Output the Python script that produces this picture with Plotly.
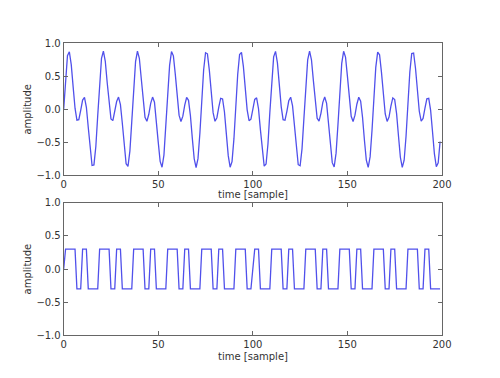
import plotly.graph_objects as go

# sample index
samples = list(range(200))

# top: original signal
signal = [
    0.000, 0.488, 0.810, 0.869, 0.675, 0.339, 0.016, -0.165, -0.158, -0.016,
    0.139, 0.178, 0.030, -0.275, -0.620, -0.850, -0.841, -0.563, -0.094, 0.407,
    0.770, 0.879, 0.725, 0.404, 0.067, -0.146, -0.172, -0.047, 0.117, 0.184,
    0.071, -0.212, -0.562, -0.823, -0.864, -0.632, -0.187, 0.322, 0.720, 0.879,
    0.770, 0.468, 0.123, -0.121, -0.181, -0.076, 0.090, 0.184, 0.106, -0.152,
    -0.500, -0.789, -0.876, -0.693, -0.278, 0.233, 0.663, 0.871, 0.807, 0.531,
    0.182, -0.089, -0.185, -0.104, 0.062, 0.178, 0.135, -0.094, -0.436, -0.748,
    -0.880, -0.746, -0.365, 0.141, 0.598, 0.854, 0.838, 0.592, 0.243, -0.051,
    -0.182, -0.128, 0.031, 0.166, 0.157, -0.041, -0.372, -0.701, -0.875, -0.791,
    -0.448, 0.047, 0.526, 0.827, 0.860, 0.648, 0.307, -0.008, -0.173, -0.149,
    0.000, 0.149, 0.173, 0.008, -0.307, -0.648, -0.860, -0.827, -0.526, -0.047,
    0.448, 0.791, 0.875, 0.701, 0.372, 0.041, -0.157, -0.166, -0.031, 0.128,
    0.182, 0.051, -0.243, -0.592, -0.838, -0.854, -0.598, -0.141, 0.365, 0.746,
    0.880, 0.748, 0.436, 0.094, -0.135, -0.178, -0.062, 0.104, 0.185, 0.089,
    -0.182, -0.531, -0.807, -0.871, -0.663, -0.233, 0.278, 0.693, 0.876, 0.789,
    0.500, 0.152, -0.106, -0.184, -0.090, 0.076, 0.181, 0.121, -0.123, -0.468,
    -0.770, -0.879, -0.720, -0.322, 0.187, 0.632, 0.864, 0.823, 0.562, 0.212,
    -0.071, -0.184, -0.117, 0.047, 0.172, 0.146, -0.067, -0.404, -0.725, -0.879,
    -0.770, -0.407, 0.094, 0.563, 0.841, 0.850, 0.620, 0.275, -0.030, -0.178,
    -0.139, 0.016, 0.158, 0.165, -0.016, -0.339, -0.675, -0.869, -0.810, -0.488,
]

# bottom: quantized signal
quantized = [
    0.0, 0.3, 0.3, 0.3, 0.3, 0.3, 0.3, -0.3, -0.3, -0.3,
    0.3, 0.3, 0.3, -0.3, -0.3, -0.3, -0.3, -0.3, -0.3, 0.3,
    0.3, 0.3, 0.3, 0.3, 0.3, -0.3, -0.3, -0.3, 0.3, 0.3,
    0.3, -0.3, -0.3, -0.3, -0.3, -0.3, -0.3, 0.3, 0.3, 0.3,
    0.3, 0.3, 0.3, -0.3, -0.3, -0.3, 0.3, 0.3, 0.3, -0.3,
    -0.3, -0.3, -0.3, -0.3, -0.3, 0.3, 0.3, 0.3, 0.3, 0.3,
    0.3, -0.3, -0.3, -0.3, 0.3, 0.3, 0.3, -0.3, -0.3, -0.3,
    -0.3, -0.3, -0.3, 0.3, 0.3, 0.3, 0.3, 0.3, 0.3, -0.3,
    -0.3, -0.3, 0.3, 0.3, 0.3, -0.3, -0.3, -0.3, -0.3, -0.3,
    -0.3, 0.3, 0.3, 0.3, 0.3, 0.3, 0.3, -0.3, -0.3, -0.3,
    0.0, 0.3, 0.3, 0.3, -0.3, -0.3, -0.3, -0.3, -0.3, -0.3,
    0.3, 0.3, 0.3, 0.3, 0.3, 0.3, -0.3, -0.3, -0.3, 0.3,
    0.3, 0.3, -0.3, -0.3, -0.3, -0.3, -0.3, -0.3, 0.3, 0.3,
    0.3, 0.3, 0.3, 0.3, -0.3, -0.3, -0.3, 0.3, 0.3, 0.3,
    -0.3, -0.3, -0.3, -0.3, -0.3, -0.3, 0.3, 0.3, 0.3, 0.3,
    0.3, 0.3, -0.3, -0.3, -0.3, 0.3, 0.3, 0.3, -0.3, -0.3,
    -0.3, -0.3, -0.3, -0.3, 0.3, 0.3, 0.3, 0.3, 0.3, 0.3,
    -0.3, -0.3, -0.3, 0.3, 0.3, 0.3, -0.3, -0.3, -0.3, -0.3,
    -0.3, -0.3, 0.3, 0.3, 0.3, 0.3, 0.3, 0.3, -0.3, -0.3,
    -0.3, 0.3, 0.3, 0.3, -0.3, -0.3, -0.3, -0.3, -0.3, -0.3,
]

x_ticks = [0, 50, 100, 150, 200]
y_ticks = [-1.0, -0.5, 0.0, 0.5, 1.0]
x_label = "time [sample]"
y_label = "amplitude"

W, H = 500, 378
LINE = "rgb(80,80,235)"
FRAME = "#666666"
TXT = "#333333"
FONT = "DejaVu Sans"


def fx(px):
    return px / W


def fy(py):
    return (H - py) / H


xd = [fx(62.3), fx(450.7)]
top_px = (38.3, 175.0)
bot_px = (203.3, 340.0)


def ydom(px):
    return [fy(px[1]), fy(px[0])]


fig = go.Figure()
fig.add_trace(go.Scatter(x=samples, y=signal, mode="lines",
                         line=dict(color=LINE, width=1.3),
                         xaxis="x", yaxis="y", showlegend=False))
fig.add_trace(go.Scatter(x=samples, y=quantized, mode="lines",
                         line=dict(color=LINE, width=1.3),
                         xaxis="x2", yaxis="y2", showlegend=False))

axcommon = dict(showline=True, linecolor=FRAME, linewidth=1, mirror="ticks",
                ticks="inside", ticklen=4, tickcolor=FRAME, showgrid=False,
                zeroline=False, tickfont=dict(family=FONT, size=10, color=TXT))

fig.update_layout(
    width=W, height=H,
    margin=dict(l=0, r=0, t=0, b=0),
    paper_bgcolor="white", plot_bgcolor="white",
    xaxis=dict(domain=xd, range=[0, 200], tickvals=x_ticks, anchor="y", **axcommon),
    yaxis=dict(domain=ydom(top_px), range=[-1, 1], tickvals=y_ticks, tickformat=".1f",
               anchor="x", **axcommon),
    xaxis2=dict(domain=xd, range=[0, 200], tickvals=x_ticks, anchor="y2", **axcommon),
    yaxis2=dict(domain=ydom(bot_px), range=[-1, 1], tickvals=y_ticks, tickformat=".1f",
                anchor="x2", **axcommon),
)

xc = (xd[0] + xd[1]) / 2
for ypx in (195.0, 361.5):
    fig.add_annotation(text=x_label, x=xc, y=fy(ypx), xref="paper", yref="paper",
                       showarrow=False, xanchor="center", yanchor="middle",
                       font=dict(family=FONT, size=10, color=TXT))
for px in (top_px, bot_px):
    fig.add_annotation(text=y_label, x=fx(25), y=fy((px[0] + px[1]) / 2),
                       xref="paper", yref="paper", showarrow=False, textangle=-90,
                       xanchor="center", yanchor="middle",
                       font=dict(family=FONT, size=10, color=TXT))

fig.write_html(
    "out.html",
    config={"displayModeBar": False},
    post_script="document.body.style.margin='0';document.body.style.overflow='hidden';",
)
